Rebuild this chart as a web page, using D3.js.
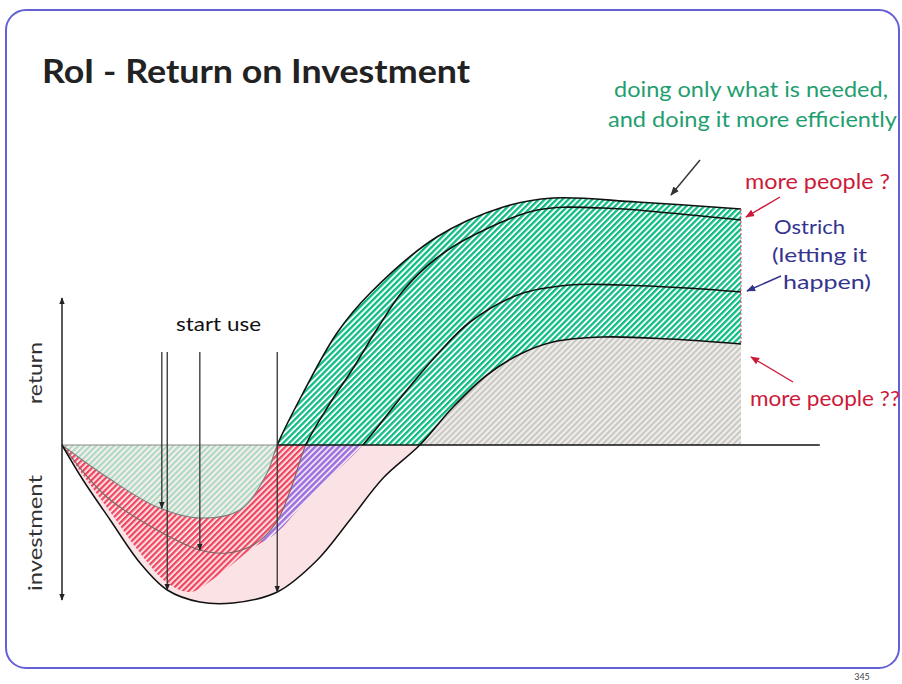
<!DOCTYPE html>
<html>
<head>
<meta charset="utf-8">
<script src="https://cdn.jsdelivr.net/npm/d3@7"></script>
<style>
  body { margin: 0; background: #fff; }
  text { font-family: Lato, "Open Sans", sans-serif; }
</style>
</head>
<body>
<svg id="chart" width="902" height="684"></svg>
<script>
// time runs 0..100, value > 0 is return, value < 0 is investment
var efficient   = [[0,0],[6.6,-16],[14,-31],[20.3,-36.5],[26.2,-32.5],[30.2,-14],[31.7,0],[35.5,26],[40.5,56],[45.4,76],[55.2,104],[65,119],[72.3,123.5],[84.7,121.5],[100,118]];
var morePeople  = [[0,0],[6.6,-26],[14,-42.5],[20.3,-52.5],[24.4,-54],[28.4,-49.5],[31.5,-39],[33.8,-21],[35.9,0],[39.5,21],[42.9,38.5],[46.5,58.5],[50.2,77],[55,93],[60.1,104],[70,117.5],[79.7,118.5],[89.5,116],[100,112.5]];
var ostrich     = [[0,0],[3.1,-15],[7.1,-33.5],[11.5,-54],[15.5,-69],[18.9,-73.5],[22.5,-66.5],[27.7,-52.5],[31.7,-43.5],[35.1,-31],[39.5,-16],[44.3,0],[50.2,25],[55.2,45],[60.1,61.5],[67.5,75.5],[74.8,80],[82.2,80],[92,78.5],[100,76.5]];
var morePeople2 = [[0,0],[3.1,-17.5],[7.1,-37.5],[11.5,-59],[15.5,-72.5],[20.3,-78.5],[25.2,-79],[31.7,-73.5],[37.6,-57.5],[42.4,-37.5],[47.3,-16.5],[52.7,0],[57.6,19],[62.6,35],[67.5,45.5],[72.3,51.5],[79.7,54],[89.5,53],[100,50.5]];

// "start use" markers: time and the curve they drop onto
var startUse = [[14.7, 'efficient'], [15.5, 'morePeople2'], [20.3, 'morePeople'], [31.7, 'morePeople2']];
var curves = {efficient: efficient, morePeople: morePeople, ostrich: ostrich, morePeople2: morePeople2};

var purpleFrom = 29.5;   // where the purple band starts below zero

var svg = d3.select('#chart');
var x = d3.scaleLinear().domain([0, 100]).range([62, 741]);
var y = d3.scaleLinear().domain([-80, 125]).range([605, 195]);

function valueAt(c, t) {
  var i = d3.bisector(function(d){ return d[0]; }).left(c, t);
  if (i <= 0) return c[0][1];
  if (i >= c.length) return c[c.length-1][1];
  var a = c[i-1], b = c[i];
  return a[1] + (b[1]-a[1]) * (t-a[0]) / (b[0]-a[0]);
}

var defs = svg.append('defs');

function stripes(id, col, bg, w) {
  var p = defs.append('pattern').attr('id', id)
    .attr('patternUnits', 'userSpaceOnUse')
    .attr('width', 4.2).attr('height', 4.2)
    .attr('patternTransform', 'rotate(45)');
  p.append('rect').attr('width', 4.2).attr('height', 4.2).attr('fill', bg);
  p.append('rect').attr('width', w).attr('height', 4.2).attr('fill', col);
}
stripes('green', '#0fbd84', '#ffffff', 2.3);
stripes('gray', '#c2cbc3', '#f6ebea', 2.0);
stripes('red', '#f04560', '#fde2e4', 2.2);
stripes('purple', '#9a70e0', '#f3e2f0', 2.4);
stripes('palegreen', '#a6dbc2', '#f8ecec', 2.0);

function marker(id, col, size) {
  defs.append('marker').attr('id', id)
    .attr('viewBox', '0 0 10 10').attr('refX', 9).attr('refY', 5)
    .attr('markerWidth', size).attr('markerHeight', size)
    .attr('markerUnits', 'userSpaceOnUse')
    .attr('orient', 'auto-start-reverse')
    .append('path').attr('d', 'M0,1 L10,5 L0,9 Z').attr('fill', col);
}
marker('arBlack', '#222', 7);
marker('arDark', '#333', 9);
marker('arRed', '#cc1a3a', 9);
marker('arBlue', '#34348e', 9);

var y0 = y(0);
defs.append('clipPath').attr('id', 'above')
  .append('rect').attr('x', 0).attr('y', 0).attr('width', 902).attr('height', y0);
defs.append('clipPath').attr('id', 'below')
  .append('rect').attr('x', 0).attr('y', y0).attr('width', 902).attr('height', 684 - y0);
defs.append('clipPath').attr('id', 'purpleClip')
  .append('rect').attr('x', x(purpleFrom)).attr('y', y0).attr('width', 902).attr('height', 684 - y0);

var smooth = d3.curveCatmullRom.alpha(0.5);
var area = d3.area()
  .x(function(d){ return x(d[0]); })
  .y0(y0)
  .y1(function(d){ return y(d[1]); })
  .curve(smooth);
var line = d3.line()
  .x(function(d){ return x(d[0]); })
  .y(function(d){ return y(d[1]); })
  .curve(smooth);

// frame
svg.append('rect')
  .attr('x', 6).attr('y', 10).attr('width', 893).attr('height', 658)
  .attr('rx', 20).attr('ry', 20)
  .attr('fill', '#fff').attr('stroke', '#6560d8').attr('stroke-width', 2);

// return side
var up = svg.append('g').attr('clip-path', 'url(#above)');
up.append('path').attr('d', area(efficient)).attr('fill', 'url(#green)');
up.append('path').attr('d', area(morePeople2)).attr('fill', 'url(#gray)');

// investment side
var down = svg.append('g').attr('clip-path', 'url(#below)');
down.append('path').attr('d', area(morePeople2)).attr('fill', '#fbe2e5');
down.append('path').attr('d', area(ostrich)).attr('fill', 'url(#red)');
var pur = down.append('g').attr('clip-path', 'url(#purpleClip)');
pur.append('path').attr('d', area(ostrich)).attr('fill', 'url(#purple)');
pur.append('path').attr('d', area(morePeople)).attr('fill', 'url(#red)');
down.append('path').attr('d', area(efficient)).attr('fill', 'url(#palegreen)');

// right edge of the filled region
svg.append('line')
  .attr('x1', x(100)).attr('x2', x(100))
  .attr('y1', y(efficient[efficient.length-1][1])).attr('y2', y(morePeople2[morePeople2.length-1][1]))
  .attr('stroke', '#e8456e').attr('stroke-width', 1).attr('stroke-dasharray', '2,2');

// baseline
var cross = efficient.filter(function(d){ return d[0] > 0 && d[1] === 0; })[0][0];
svg.append('line')
  .attr('x1', x(0)).attr('x2', x(cross)).attr('y1', y0).attr('y2', y0)
  .attr('stroke', '#8a8a8a').attr('stroke-width', 1.2);
svg.append('line')
  .attr('x1', x(cross)).attr('x2', x(111.6)).attr('y1', y0).attr('y2', y0)
  .attr('stroke', '#111').attr('stroke-width', 1.4);

// curve lines
[efficient, morePeople, ostrich, morePeople2].forEach(function(c) {
  up.append('path').attr('d', line(c)).attr('fill', 'none')
    .attr('stroke', '#111').attr('stroke-width', 1.6);
});
down.append('path').attr('d', line(efficient)).attr('fill', 'none')
  .attr('stroke', '#7d7d7d').attr('stroke-width', 1.1);
down.append('path').attr('d', line(morePeople)).attr('fill', 'none')
  .attr('stroke', '#7a6464').attr('stroke-width', 1.1);
down.append('path').attr('d', line(morePeople2)).attr('fill', 'none')
  .attr('stroke', '#111').attr('stroke-width', 1.5);

// start use arrows
startUse.forEach(function(s) {
  svg.append('line')
    .attr('x1', x(s[0])).attr('x2', x(s[0]))
    .attr('y1', y(46.5)).attr('y2', y(valueAt(curves[s[1]], s[0])))
    .attr('stroke', '#333').attr('stroke-width', 1.3)
    .attr('marker-end', 'url(#arBlack)');
});

// text helper: width
function label(px, py, str, size, col, len, extra) {
  var t = svg.append('text').attr('x', px).attr('y', py)
    .attr('font-size', size).attr('fill', col)
    .attr('textLength', len).attr('lengthAdjust', 'spacingAndGlyphs')
    .text(str);
  if (extra) extra(t);
  return t;
}

label(176, 331, 'start use', 19, '#111', 85);

// vertical axis
svg.append('line')
  .attr('x1', x(0)).attr('x2', x(0)).attr('y1', y(73.5)).attr('y2', y(-77.5))
  .attr('stroke', '#222').attr('stroke-width', 1.5)
  .attr('marker-start', 'url(#arBlack)').attr('marker-end', 'url(#arBlack)');
label(0, 0, 'return', 19, '#333', 62, function(t){
  t.attr('transform', 'translate(42,404) rotate(-90)');
});
label(0, 0, 'investment', 19, '#333', 116, function(t){
  t.attr('transform', 'translate(42,591) rotate(-90)');
});

// title
label(42, 83, 'RoI - Return on Investment', 32, '#222', 428, function(t){
  t.attr('font-weight', 'bold');
});

// annotations
var greenCol = '#1f9e70', redCol = '#cc1a3a', blueCol = '#34348e';
label(614, 97, 'doing only what is needed,', 21, greenCol, 274);
label(608, 127, 'and doing it more efficiently', 21, greenCol, 289);
label(745, 189, 'more people ?', 21, redCol, 145);
label(774, 234, 'Ostrich', 20, blueCol, 71);
label(772, 262, '(letting it', 20, blueCol, 95);
label(783, 289, 'happen)', 20, blueCol, 88);
label(750, 406, 'more people ??', 21, redCol, 150);

var pointers = [
  [700, 160, 671, 195, '#333', 'arDark'],
  [780, 197, 746, 217, redCol, 'arRed'],
  [781, 276, 747, 291, blueCol, 'arBlue'],
  [793, 382, 751, 357, redCol, 'arRed']
];
pointers.forEach(function(p) {
  svg.append('line')
    .attr('x1', p[0]).attr('y1', p[1]).attr('x2', p[2]).attr('y2', p[3])
    .attr('stroke', p[4]).attr('stroke-width', 1.4)
    .attr('marker-end', 'url(#' + p[5] + ')');
});

svg.append('text').attr('x', 862).attr('y', 680).attr('text-anchor', 'middle')
  .attr('font-size', 9).attr('fill', '#444').text('345');
</script>
</body>
</html>
